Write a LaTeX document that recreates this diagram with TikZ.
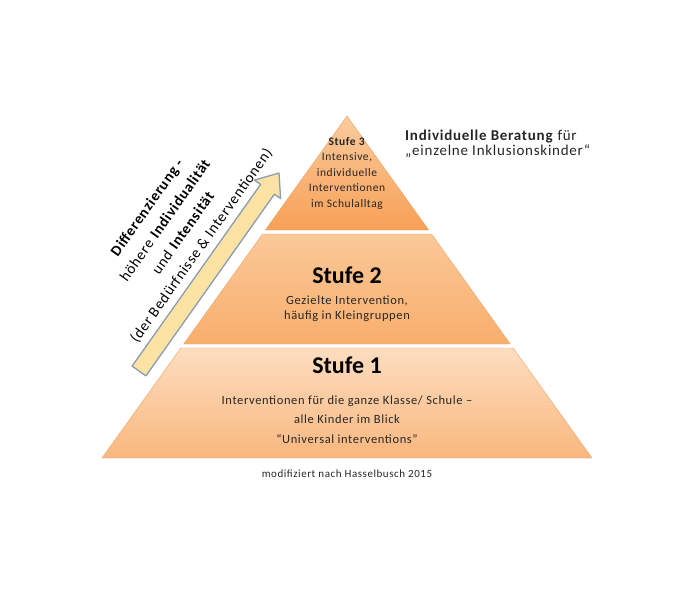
\documentclass[tikz,border=0pt]{standalone}
\usepackage{fontspec}
\setmainfont{Carlito}
\newfontfamily\tracked{Carlito}[LetterSpace=5]

\definecolor{tierthreetop}{HTML}{FBCB9E}
\definecolor{tierthreebot}{HTML}{F7A055}
\definecolor{tiertwotop}{HTML}{FBC898}
\definecolor{tiertwobot}{HTML}{F8AE6C}
\definecolor{tieronetop}{HTML}{FDDDC0}
\definecolor{tieronebot}{HTML}{F9B77E}
\definecolor{tierline}{HTML}{E9A46A}
\definecolor{arrowfill}{HTML}{FCE3A3}
\definecolor{arrowline}{HTML}{8A9CAE}
\definecolor{textgray}{HTML}{262626}

\begin{document}
\begin{tikzpicture}[x=1pt,y=-1pt]
    \tikzstyle{every node}=[inner sep=0pt, text=textgray]
    \tikzstyle{tier}=[draw=tierline, line width=0.4pt]
    \tikzstyle{title}=[font=\fontsize{24}{28}\selectfont\bfseries, text=black]
    \tikzstyle{body}=[align=center, anchor=base]
    \useasboundingbox (0,0) rectangle (690,598);
    % pyramid, three tiers
    \shade[tier, top color=tierthreetop, bottom color=tierthreebot] (265.3,230) -- (347,116) -- (428.7,230) -- cycle;
    \shade[tier, top color=tiertwotop, bottom color=tiertwobot] (262.5,234) -- (431.5,234) -- (510.3,344) -- (183.7,344) -- cycle;
    \shade[tier, top color=tieronetop, bottom color=tieronebot] (180.8,348) -- (513.2,348) -- (592,458) -- (102,458) -- cycle;
    % arrow
    \draw[fill=arrowfill, draw=arrowline, line width=1.3pt, line join=round] (132.1,366.1) -- (260.6,184.4) -- (254.4,180.1) -- (279,173) -- (280.6,198.5) -- (274.4,194.2) -- (145.9,375.9) -- cycle;
    % texts (base = last line)
    \node[body, font=\tracked\fontsize{11.5}{15.5}\selectfont] (s3) at (347,207) {\textbf{Stufe 3}\\Intensive,\\individuelle\\Interventionen\\im Schulalltag};
    \node[title, anchor=base] (t2) at (347,283) {Stufe 2};
    \node[body, font=\tracked\fontsize{12.5}{14.5}\selectfont] (s2) at (347,319) {Gezielte Intervention,\\häufig in Kleingruppen};
    \node[title, anchor=base] (t1) at (347,373) {Stufe 1};
    \node[body, font=\tracked\fontsize{12.5}{19.5}\selectfont] (s1) at (347,443) {Interventionen für die ganze Klasse/ Schule –\\alle Kinder im Blick\\“Universal interventions”};
    \node[anchor=base west, align=left, font=\tracked\fontsize{15}{15}\selectfont] (note) at (405,155) {\textbf{Individuelle Beratung} für\\„einzelne Inklusionskinder“};
    \node[anchor=base, font=\tracked\fontsize{11}{13}\selectfont] (src) at (347,477) {modifiziert nach Hasselbusch 2015};
    \node[rotate=54.7, align=center, font=\tracked\fontsize{15}{22}\selectfont, text=black] (diff) at (174.7,226.7) {\textbf{Differenzierung -}\\höhere \textbf{Individualität}\\und \textbf{Intensität}\\(der Bedürfnisse \& Interventionen)};
\end{tikzpicture}
\end{document}
